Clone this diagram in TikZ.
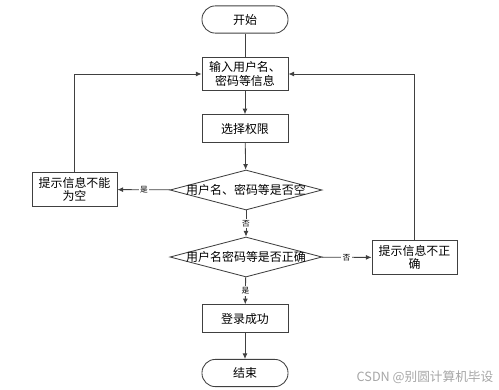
\documentclass[tikz,border=0pt]{standalone}
\usepackage{fontspec}
\newfontfamily\cjk{Noto Sans CJK SC}
\usetikzlibrary{shapes.geometric, arrows.meta}

\tikzset{
    startstop/.style={draw, rectangle, rounded corners=9.5pt, minimum width=2.15cm, minimum height=0.68cm},
    process/.style={draw, rectangle, minimum width=2.15cm, minimum height=0.69cm, align=center},
    decision/.style={draw, diamond, minimum width=3.8cm, minimum height=1.0cm, inner sep=0pt},
    arrow/.style={-{Latex[length=4pt, width=3.5pt]}},
    tag/.style={fill=white, inner sep=1pt, font=\cjk\fontsize{5.5}{6}\selectfont}
}

\begin{document}
\begin{tikzpicture}[x=0.025cm, y=-0.025cm, font=\cjk\fontsize{8.5}{9.5}\selectfont, line width=0.6pt, draw=black!75]
                    \useasboundingbox (0,0) rectangle (499,389);

                    \node[startstop] (start) at (245,19.5) {开始};
                    \node[process] (input) at (245,74) {输入用户名、\\密码等信息};
                    \node[process] (role) at (245,128.5) {选择权限};
                    \node[decision] (empty) at (246,190) {\makebox[0pt]{用户名、密码等是否空}};
                    \node[process, minimum width=2.125cm] (warnempty) at (74.5,189.5) {提示信息不能\\为空};
                    \node[decision] (check) at (246,257) {\makebox[0pt]{用户名密码等是否正确}};
                    \node[process, minimum width=2.125cm] (warnwrong) at (414.5,257.5) {提示信息不正\\确};
                    \node[process] (success) at (245,318.5) {登录成功};
                    \node[startstop] (stop) at (245,373) {结束};

                    \draw (start) -- (input);
                    \draw[arrow] (input) -- (role);
                    \draw[arrow] (role) -- (empty);
                    \draw[arrow] (empty) -- node[tag] {是} (warnempty);
                    \draw[arrow] (empty) -- node[tag] {否} (check);
                    \draw[arrow] (check) -- node[tag] {否} (warnwrong);
                    \draw[arrow] (check) -- node[tag] {是} (success);
                    \draw[arrow] (success) -- (stop);
                    \draw[arrow] (warnempty.north) |- (input.west);
                    \draw[arrow] (warnwrong.north) |- (input.east);

                    \node[text=black!35, font=\cjk\fontsize{9}{10}\selectfont] (mark) at (425,377) {CSDN @别圆计算机毕设};
                \end{tikzpicture}
\end{document}
